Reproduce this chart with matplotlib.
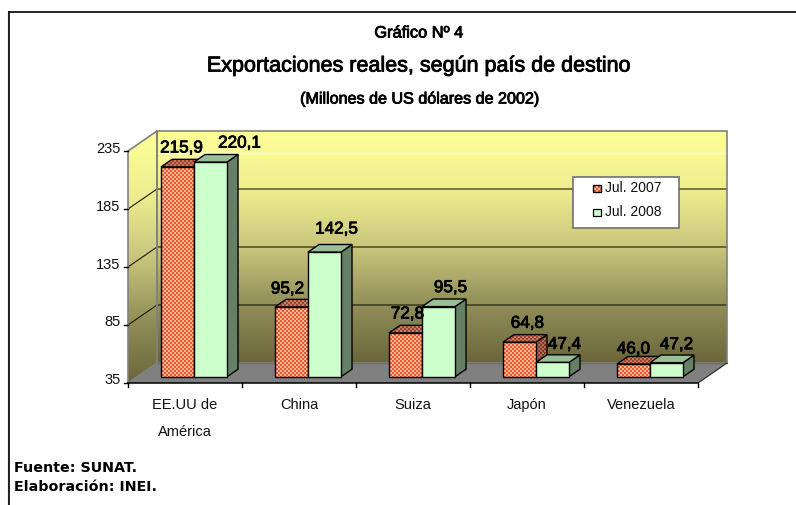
import numpy as np
import matplotlib
matplotlib.use("Agg")
import matplotlib.pyplot as plt
import matplotlib.patheffects as pe
from matplotlib.colors import LinearSegmentedColormap
from matplotlib.patches import Polygon, Rectangle
from matplotlib.transforms import Affine2D

categories = ["EE.UU de\nAmérica", "China", "Suiza", "Japón", "Venezuela"]
jul_2007 = [215.9, 95.2, 72.8, 64.8, 46.0]
jul_2008 = [220.1, 142.5, 95.5, 47.4, 47.2]
y_ticks = [35, 85, 135, 185, 235]
legend_labels = ["Jul. 2007", "Jul. 2008"]

# label offsets from the top of each bar, in pixels
offset_2007 = [(4, 19), (-4, 18), (2, 19), (8, 19), (0, 15)]
offset_2008 = [(29, 19), (12, 23), (12, 19), (12, 18), (10, 18)]

W, H = 796, 505
plt.rcParams["font.family"] = ["Liberation Sans", "DejaVu Sans"]

fig = plt.figure(figsize=(W / 100, H / 100), dpi=100)
ax = fig.add_axes([0, 0, 1, 1])
ax.axis("off")

# front plane scale: category 0 starts at x=128, value 35 sits at y=383
PX_CAT = 114.0
PX_VAL = 1.16
xlim = (-128 / PX_CAT, (W - 128) / PX_CAT)
ylim = (35 - (H - 383) / PX_VAL, 35 + 383 / PX_VAL)

# full depth of the 3d box as data units
DX = 29 / PX_CAT
DY = 20 / PX_VAL
TOP = 235
N = len(categories)

# pixel coords (y down) for the page furniture
px = Affine2D().scale(1, -1).translate(0, H)

# the original text looks like regular weight with a thin smear on it
heavy = [pe.withStroke(linewidth=0.6, foreground="black")]


def pt(x, v, d=0.0):
    return (x + d * DX, v + d * DY)


def face(points, z, **kw):
    p = Polygon(points, closed=True, zorder=z, **kw)
    ax.add_patch(p)
    return p


def gradient(points, colors, z):
    xs = [p[0] for p in points]
    ys = [p[1] for p in points]
    cmap = LinearSegmentedColormap.from_list("wall", colors)
    im = ax.imshow(np.linspace(0, 1, 256).reshape(-1, 1), cmap=cmap, aspect="auto", origin="upper",
                   extent=(min(xs), max(xs), min(ys), max(ys)), zorder=z, interpolation="bilinear")
    clip = Polygon(points, closed=True, transform=ax.transData)
    im.set_clip_path(clip)


# checker pattern of the 2007 bars, one full page of it
yy, xx = np.mgrid[0:H, 0:W]
check = ((xx // 2 + yy // 2) % 2)[..., None]
red = np.array([236, 84, 56]) / 255
peach = np.array([250, 186, 142]) / 255
texture = check * peach + (1 - check) * red


def textured(points, z, shade=1.0, trans=None):
    im = ax.imshow(texture * shade, extent=(0, W, H, 0), transform=px, aspect="auto", zorder=z, interpolation="bilinear")
    im.set_clip_path(Polygon(points, closed=True, transform=trans or ax.transData))
    ax.add_patch(Polygon(points, closed=True, fill=False, edgecolor="black", linewidth=1.0, zorder=z + 0.1,
                         transform=trans or ax.transData))


wall_colors = ["#ffff99", "#eeee90", "#c9c67c", "#918e58", "#6a663b"]

# back wall, side wall and floor
back = [pt(0, TOP, 1), pt(N, TOP, 1), pt(N, 35, 1), pt(0, 35, 1)]
side = [pt(0, TOP, 0), pt(0, TOP, 1), pt(0, 35, 1), pt(0, 35, 0)]
floor = [pt(0, 35, 0), pt(0, 35, 1), pt(N, 35, 1), pt(N, 35, 0)]
gradient(back, wall_colors, 1)
gradient(side, wall_colors, 1)
face(floor, 1.2, facecolor="#808080", edgecolor="none")

# stray white line on the wall, it is in the original
ax.plot([157, 726], [152.5, 152.5], color="white", lw=1.0, transform=px, zorder=1.4)

for t in y_ticks[1:-1]:
    gx, gy = zip(pt(0, t, 0), pt(0, t, 1), pt(N, t, 1))
    ax.plot(gx, gy, color="#1a1a08", lw=0.8, zorder=1.5)
gx, gy = zip(pt(0, 35, 1), pt(N, 35, 1))
ax.plot(gx, gy, color="#1a1a08", lw=0.8, zorder=1.5)

for poly in (back, side):
    ax.add_patch(Polygon(poly, closed=True, fill=False, edgecolor="#808080", linewidth=1.2, zorder=1.6))

# axes lines and ticks
ax.plot([0, N], [35, 35], color="black", lw=1.1, zorder=1.7)
gx, gy = zip(pt(N, 35, 0), pt(N, 35, 1))
ax.plot(gx, gy, color="#333333", lw=0.9, zorder=1.7)
for c in range(N + 1):
    ax.plot([c, c], [35, 35 - 4 / PX_VAL], color="black", lw=1.0, zorder=1.7)
for t in y_ticks:
    ax.plot([-4 / PX_CAT, 0], [t, t], color="black", lw=1.0, zorder=1.7)
    ax.annotate(str(t), (0, t), xytext=(-7.5 * 0.72, 2.5 * 0.72), textcoords="offset points", ha="right", va="center",
                fontsize=10.5, color="#111111")
for c, name in enumerate(categories):
    ax.text(c + 0.5, 35 - 15 / PX_VAL, name, ha="center", va="top", fontsize=10.5, linespacing=2.15, color="#111111")

# bars, depth runs from d0 to d1 of the box
d0, d1 = 0.31, 0.69
BAR_W = 33 / PX_CAT
z = 3.0
for c in range(N):
    # 2007 first, the 2008 bar covers its side
    for left, v, series in ((c + 0.5 - BAR_W, jul_2007[c], 0), (c + 0.5, jul_2008[c], 1)):
        right = left + BAR_W
        front = [pt(left, 35, d0), pt(right, 35, d0), pt(right, v, d0), pt(left, v, d0)]
        top = [pt(left, v, d0), pt(right, v, d0), pt(right, v, d1), pt(left, v, d1)]
        wall = [pt(right, 35, d0), pt(right, 35, d1), pt(right, v, d1), pt(right, v, d0)]
        if series == 0:
            textured(wall, z, 0.62)
            textured(top, z + 0.2, 0.72)
            textured(front, z + 0.4)
        else:
            face(wall, z, facecolor="#668066", edgecolor="black", linewidth=1.0)
            face(top, z + 0.2, facecolor="#99bf99", edgecolor="black", linewidth=1.0)
            face(front, z + 0.4, facecolor="#ccffcc", edgecolor="black", linewidth=1.0)
        z += 1

for c in range(N):
    for left, v, off in ((c + 0.5 - BAR_W, jul_2007[c], offset_2007[c]), (c + 0.5, jul_2008[c], offset_2008[c])):
        ax.annotate(f"{v:.1f}".replace(".", ","), pt(left + BAR_W / 2, v, d0), xytext=(off[0] * 0.72, off[1] * 0.72),
                    textcoords="offset points", ha="center", va="center", fontsize=12.3, color="black",
                    path_effects=heavy, zorder=30)

# legend box
ax.add_patch(Rectangle((573, 177), 106, 51, facecolor="white", edgecolor="#707070", linewidth=1.2, transform=px, zorder=40))
sq_2007 = [(593, 184.5), (600.5, 184.5), (600.5, 192), (593, 192)]
textured(sq_2007, 41, trans=px)
ax.add_patch(Rectangle((593, 208.5), 7.5, 7.5, facecolor="#ccffcc", edgecolor="black", linewidth=0.9, transform=px, zorder=41))
ax.text(605, 187.5, legend_labels[0], transform=px, ha="left", va="center", fontsize=10, zorder=42, color="#111111")
ax.text(605, 211.5, legend_labels[1], transform=px, ha="left", va="center", fontsize=10, zorder=42, color="#111111")

# titles
ax.text(419, 33, "Gráfico Nº 4", transform=px, ha="center", va="center", fontsize=11.8, path_effects=heavy)
ax.text(418, 66, "Exportaciones reales, según país de destino", transform=px, ha="center", va="center", fontsize=15.5, path_effects=heavy)
ax.text(420, 99, "(Millones de US dólares de 2002)", transform=px, ha="center", va="center", fontsize=11.6, path_effects=heavy)

# footer
ax.text(14, 468, "Fuente: SUNAT.", transform=px, ha="left", va="center", fontsize=10.3, fontweight="bold", family="DejaVu Sans")
ax.text(14, 487, "Elaboración: INEI.", transform=px, ha="left", va="center", fontsize=10.3, fontweight="bold", family="DejaVu Sans")

# page frame, open at right and bottom
ax.plot([8, 8], [12, H], color="#c8c8c8", lw=1.0, transform=px, zorder=49)
ax.plot([9, W], [11.5, 11.5], color="black", lw=1.2, transform=px, zorder=50)
ax.plot([9, 9], [11.5, H], color="black", lw=1.2, transform=px, zorder=50)

ax.set_xlim(*xlim)
ax.set_ylim(*ylim)

fig.savefig("out.png", dpi=100)
